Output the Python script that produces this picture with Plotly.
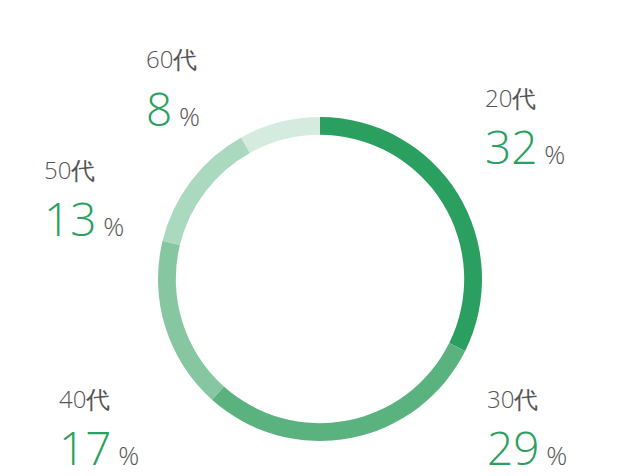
import plotly.graph_objects as go

labels = ["20代", "30代", "40代", "50代", "60代"]
values = [32, 29, 17, 13, 8]
colors = ["#2b9f5f", "#5ab37f", "#86c6a0", "#aad9bf", "#d5ebdf"]
# label anchor positions (pixels) for annotations
lab_pos = [(475, 89), (477, 390), (49, 390), (34, 161), (136, 51)]

W, H = 640, 476
fig = go.Figure(go.Pie(
    labels=labels, values=values, hole=0.89, sort=False,
    direction="clockwise", rotation=0,
    marker=dict(colors=colors, line=dict(width=0)),
    textinfo="none", hoverinfo="label+percent",
    domain=dict(x=[150/W, 474/W], y=[1-433/H, 1-109/H]),
))
for lab, v, (px, py) in zip(labels, values, lab_pos):
    fig.add_annotation(x=px/W, y=1-py/H, xref="paper", yref="paper",
                       xanchor="left", yanchor="middle", showarrow=False,
                       text=lab, font=dict(family="Open Sans", size=24, color="#555555", weight=300))
    fig.add_annotation(x=px/W, y=1-(py+49)/H, xref="paper", yref="paper",
                       xanchor="left", yanchor="middle", showarrow=False,
                       text=f"<span style='color:#2b9f5f;font-size:46px'>{v}</span> %",
                       font=dict(family="Open Sans", size=26, color="#555555", weight=300))
fig.update_layout(width=W, height=H, margin=dict(l=0, r=0, t=0, b=0),
                  showlegend=False, paper_bgcolor="white")
fig.write_html("out.html")
